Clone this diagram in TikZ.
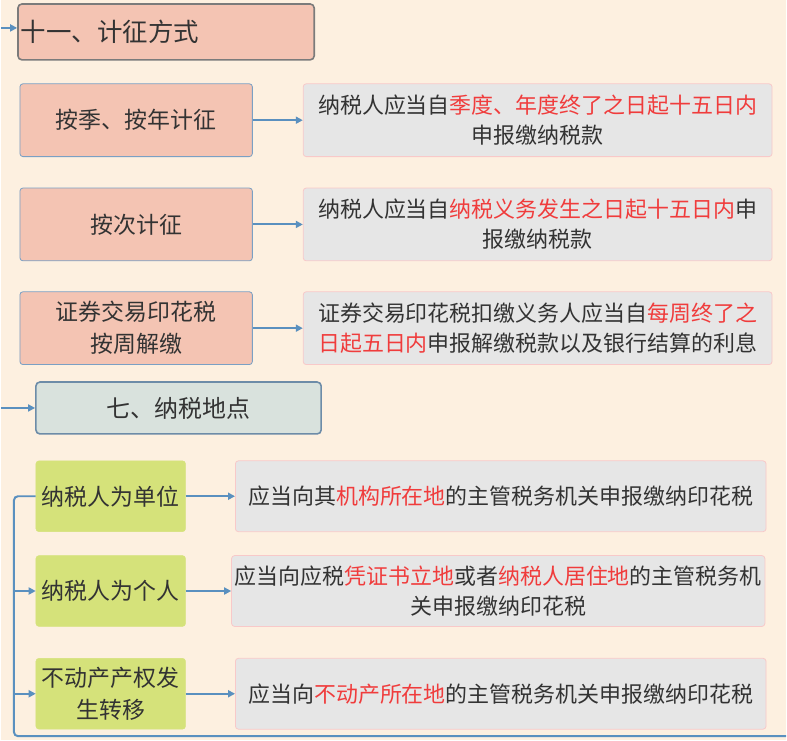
\documentclass[tikz,border=0pt]{standalone}
\usepackage{fontspec}
\setmainfont{Noto Sans CJK SC}
\usepackage{xcolor}
\usepackage{tikz}
\usetikzlibrary{arrows.meta, calc}

\definecolor{paper}{HTML}{FDF0E0}
\definecolor{salmon}{HTML}{F4C4B3}
\definecolor{headedge}{HTML}{7B7B7B}
\definecolor{edgeblue}{HTML}{7AA0C4}
\definecolor{notegray}{HTML}{E6E6E6}
\definecolor{notepink}{HTML}{F8C9C9}
\definecolor{leaf}{HTML}{D5E27A}
\definecolor{placefill}{HTML}{D9E2DD}
\definecolor{placeedge}{HTML}{6D8CA8}
\definecolor{wire}{HTML}{5A90BF}
\definecolor{hot}{HTML}{F03C3C}
\definecolor{ink}{HTML}{333333}

\newcommand{\hot}[1]{\textcolor{hot}{#1}}

\begin{document}
\begin{tikzpicture}[
    x=1pt, y=-1pt,
    head/.style={draw=headedge, line width=1.6pt, rounded corners=4pt, fill=salmon, minimum height=56pt, text width=291pt, inner xsep=3pt, align=left, font=\fontsize{25.5}{30}\selectfont, text=ink},
    kind/.style={draw=edgeblue, line width=0.8pt, rounded corners=3pt, fill=salmon, minimum width=233pt, minimum height=73pt, align=center, font=\fontsize{23}{32}\selectfont, text=ink},
    note/.style={draw=notepink, line width=0.8pt, rounded corners=3pt, fill=notegray, minimum height=73pt, align=center, font=\fontsize{22}{30}\selectfont, text=ink},
    place/.style={draw=placeedge, line width=1.6pt, rounded corners=4pt, fill=placefill, minimum width=286pt, minimum height=52pt, font=\fontsize{24}{30}\selectfont, text=ink},
    leafbox/.style={draw=leaf, rounded corners=3pt, fill=leaf, minimum width=150pt, minimum height=71pt, align=center, font=\fontsize{23}{32}\selectfont, text=ink},
    link/.style={draw=wire, line width=2pt},
    arr/.style={link, -{Triangle[length=7pt, width=7pt]}}
]
\fill[paper] (0,0) rectangle (787,742);

% 十一、计征方式
\node[head] (way) at (165.5, 32) {十一、计征方式};

\node[kind] (season) at (135.5, 120.5) {按季、按年计征};
\node[kind] (each) at (135.5, 225) {按次计征};
\node[kind] (week) at (135.5, 329) {证券交易印花税\\按周解缴};

\node[note, minimum width=470pt] (nseason) at (538, 120.5) {纳税人应当自\hot{季度、年度终了之日起十五日内}\\申报缴纳税款};
\node[note, minimum width=470pt] (neach) at (538, 225) {纳税人应当自\hot{纳税义务发生之日起十五日内}申\\报缴纳税款};
\node[note, minimum width=470pt] (nweek) at (538, 329) {证券交易印花税扣缴义务人应当自\hot{每周终了之}\\\hot{日起五日内}申报解缴税款以及银行结算的利息};

\draw[arr] (season) -- (nseason);
\draw[arr] (each) -- (neach);
\draw[arr] (week) -- (nweek);

% 七、纳税地点
\node[place] (spot) at (178, 409) {七、纳税地点};

\node[leafbox] (unit) at (110, 497.5) {纳税人为单位};
\node[leafbox] (person) at (110, 592.5) {纳税人为个人};
\node[leafbox] (estate) at (110, 695.5) {不动产产权发\\生转移};

\node[note, minimum width=532pt, minimum height=71pt] (nunit) at (501, 497.5) {应当向其\hot{机构所在地}的主管税务机关申报缴纳印花税};
\node[note, minimum width=533pt, minimum height=71pt] (nperson) at (498.5, 592.5) {应当向应税\hot{凭证书立地}或者\hot{纳税人居住地}的主管税务机\\关申报缴纳印花税};
\node[note, minimum width=532pt, minimum height=71pt] (nestate) at (501, 695.5) {应当向\hot{不动产所在地}的主管税务机关申报缴纳印花税};

\draw[arr] (unit) -- (nunit);
\draw[arr] (person) -- (nperson);
\draw[arr] (estate) -- (nestate);

% left bus
\coordinate (inTop) at (0, 28);
\coordinate (inMid) at (0, 409);
\coordinate (busTop) at (13, 497.5);
\coordinate (busBot) at (13, 738);
\coordinate (busEnd) at (787, 738);

\draw[arr] (inTop) -- (inTop -| way.west);
\draw[arr] (inMid) -- (spot);
\draw[link, rounded corners=4pt] (unit.west) -- (busTop) -- (busBot) -- (busEnd);
\draw[arr] (busTop |- person.west) -- (person);
\draw[arr] (busTop |- estate.west) -- (estate);

\end{tikzpicture}
\end{document}
